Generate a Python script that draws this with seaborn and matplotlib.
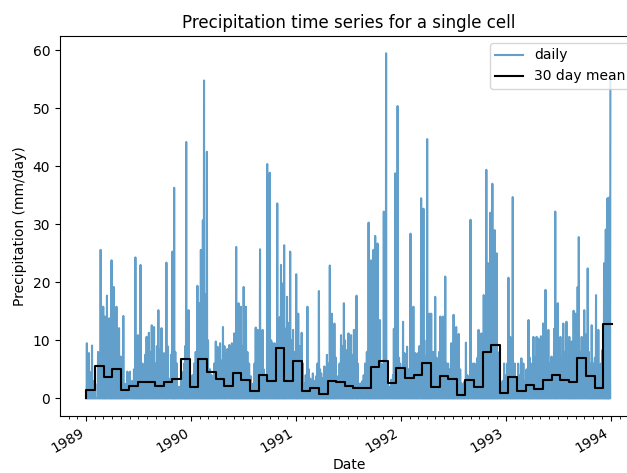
import pandas as pd
import matplotlib
matplotlib.use("Agg")
import matplotlib.pyplot as plt
import matplotlib.dates as mdates
import seaborn as sns

# wet days: day offset from 1989-01-01 and rain (mm/day)
peak_days = [2, 9, 20, 41, 50, 59, 65, 72, 80, 88, 96, 105, 114, 120, 129, 143, 152, 171, 180, 189,
             196, 210, 218, 228, 236, 251, 262, 271, 279, 287, 300, 306, 315, 323, 341, 348, 356, 364,
             387, 393, 399, 406, 410, 420, 427, 436, 451, 457, 466, 476, 486, 498, 507, 515, 522, 530,
             538, 548, 556, 567, 573, 590, 597, 605, 614, 622, 630, 639, 649, 656, 665, 671, 678, 683,
             689, 699, 710, 720,
             731, 738, 750, 759, 770, 780, 789, 800, 810, 818, 829, 838, 848, 855, 864, 876, 887, 897,
             905, 913, 922, 932, 941, 948, 957, 971, 983, 992, 1000, 1006, 1014, 1022, 1030, 1036, 1044,
             1050, 1062, 1076, 1084, 1093,
             1103, 1108, 1117, 1129, 1139, 1146, 1155, 1166, 1174, 1181, 1187, 1195, 1201, 1215, 1225,
             1233, 1242, 1250, 1260, 1271, 1279, 1288, 1297, 1306, 1315, 1322, 1331, 1338, 1347, 1352,
             1366, 1376, 1384, 1393, 1399, 1407, 1414, 1422, 1429, 1436, 1446, 1455,
             1470, 1476, 1485, 1492, 1504, 1515, 1522, 1540, 1548, 1557, 1568, 1574, 1583, 1591, 1599,
             1609, 1620, 1633, 1642, 1651, 1661, 1672, 1682, 1690, 1697, 1704, 1711, 1715, 1725, 1734,
             1746, 1754, 1760, 1767, 1775, 1783, 1797, 1803, 1809, 1815, 1820, 1825]
peak_mm = [9.5, 7.8, 9.1, 8.0, 25.6, 15.8, 14.1, 17.7, 13.8, 23.8, 19.2, 15.8, 12.1, 7.2, 14.2, 4.6, 4.6, 24.3, 10.9, 23.0,
           6.0, 10.6, 11.3, 12.6, 12.3, 15.2, 12.1, 7.8, 23.4, 3.4, 25.3, 36.3, 6.0, 2.0, 6.0, 44.2, 15.2, 2.0,
           19.4, 16.4, 25.6, 30.7, 54.8, 42.5, 4.9, 4.0, 9.8, 8.9, 9.5, 12.3, 7.7, 9.2, 9.5, 11.2, 26.1, 16.4,
           15.8, 19.2, 15.8, 6.0, 3.8, 12.2, 11.8, 25.7, 11.8, 3.8, 40.4, 38.9, 9.5, 9.5, 33.6, 6.0, 23.0, 19.8,
           26.4, 17.5, 25.3, 11.8,
           21.4, 14.6, 11.3, 2.6, 15.8, 3.4, 4.3, 3.8, 18.5, 4.3, 5.5, 7.5, 22.9, 14.6, 12.9, 3.8, 10.9, 16.4,
           8.3, 11.2, 10.9, 11.8, 17.7, 2.6, 2.6, 6.0, 30.3, 23.8, 25.6, 28.0, 26.7, 13.5, 5.8, 32.2, 59.5,
           3.2, 3.2, 38.8, 50.4, 6.0,
           13.2, 7.8, 8.9, 28.4, 15.8, 7.8, 7.8, 34.5, 32.7, 7.2, 44.7, 14.6, 14.6, 17.5, 6.0,
           14.1, 14.1, 21.0, 6.0, 9.5, 14.4, 12.3, 11.1, 2.6, 2.6, 9.6, 3.7, 30.8, 6.0, 6.0,
           11.8, 11.2, 17.8, 39.4, 23.3, 32.0, 37.0, 29.0, 25.0, 2.6, 2.6, 6.0,
           20.8, 10.6, 34.7, 6.0, 6.0, 6.9, 6.0, 13.5, 6.0, 10.6, 10.6, 10.3, 10.7, 12.9, 18.7,
           11.8, 7.2, 32.2, 16.4, 10.6, 12.9, 13.2, 10.6, 9.8, 15.1, 14.6, 19.2, 27.8, 10.6, 15.2,
           22.4, 6.0, 12.6, 6.0, 17.8, 11.8, 8.3, 23.3, 29.1, 34.5, 34.6, 54.8]

# smaller wet days filling the band under the spikes
light_days = [5, 14, 25, 31, 45, 55, 62, 68, 76, 84, 92, 100, 109, 117, 125, 135, 160, 166, 175, 184,
              193, 201, 205, 214, 223, 232, 241, 246, 256, 266, 275, 283, 295, 303, 310, 330, 336, 344,
              352, 360,
              370, 376, 381, 404, 415, 424, 431, 441, 446, 461, 471, 481, 491, 502, 511, 519, 526, 534,
              543, 552, 561, 580, 586, 593, 601, 609, 618, 626, 634, 644, 653, 661, 668, 674, 686, 694,
              704, 715, 725,
              735, 744, 754, 764, 775, 785, 795, 805, 814, 824, 833, 843, 851, 860, 869, 882, 892, 901,
              909, 917, 927, 936, 945, 962, 966, 977, 987, 996, 1003, 1010, 1018, 1026, 1040, 1056, 1068,
              1071, 1080, 1089,
              1098, 1112, 1122, 1134, 1143, 1150, 1160, 1170, 1177, 1191, 1198, 1208, 1220, 1229, 1238,
              1246, 1255, 1266, 1275, 1284, 1293, 1302, 1311, 1318, 1327, 1343, 1358, 1362, 1371, 1380,
              1388, 1396, 1403, 1411, 1418, 1425, 1432, 1441, 1450,
              1462, 1466, 1480, 1489, 1498, 1510, 1527, 1533, 1544, 1552, 1562, 1579, 1587, 1595, 1604,
              1614, 1626, 1629, 1638, 1646, 1656, 1666, 1677, 1686, 1694, 1701, 1708, 1720, 1729, 1739,
              1750, 1757, 1764, 1771, 1779, 1788, 1792, 1800, 1806, 1812, 1818, 1823]
light_mm = [6.0, 4.5, 3.0, 2.5, 6.5, 9.0, 7.5, 10.0, 8.0, 9.5, 11.0, 8.5, 9.0, 5.0, 3.5, 2.5, 3.0, 5.0, 8.0, 6.5,
            5.5, 4.0, 7.5, 6.5, 8.0, 7.0, 6.0, 9.0, 8.5, 5.0, 6.0, 9.0, 7.5, 12.0, 8.0, 3.0, 4.5, 9.0,
            8.0, 5.0,
            4.0, 6.0, 8.0, 12.0, 18.0, 10.0, 5.0, 3.0, 6.0, 7.0, 6.5, 9.0, 8.5, 6.0, 7.0, 8.0, 12.0, 10.0,
            9.0, 12.0, 8.0, 2.5, 6.0, 8.0, 9.0, 7.0, 5.0, 4.0, 12.0, 10.0, 6.0, 8.0, 11.0, 14.0, 15.0, 12.0,
            13.0, 10.0, 8.0,
            8.0, 9.0, 6.0, 4.0, 5.0, 2.5, 3.0, 6.0, 5.0, 3.5, 4.5, 6.0, 10.0, 8.0, 7.0, 6.0, 9.0, 10.0,
            7.0, 8.0, 7.5, 8.0, 6.0, 3.0, 4.0, 8.0, 15.0, 14.0, 16.0, 12.0, 10.0, 6.0, 10.0, 2.0, 4.0,
            12.0, 15.0, 7.0,
            5.0, 6.0, 5.0, 10.0, 6.0, 5.0, 9.0, 12.0, 10.0, 8.0, 9.0, 8.0, 7.0, 8.0, 9.0,
            10.0, 6.0, 5.0, 7.0, 8.0, 7.0, 5.0, 2.0, 3.0, 4.0, 5.0, 4.0, 7.0, 8.0, 10.0,
            14.0, 12.0, 16.0, 15.0, 14.0, 12.0, 8.0, 2.0, 3.0,
            4.0, 6.0, 8.0, 5.0, 3.0, 4.0, 3.0, 5.0, 7.0, 5.0, 7.0, 6.0, 8.0, 9.0, 8.0,
            6.0, 5.0, 12.0, 10.0, 8.0, 7.0, 8.0, 7.0, 6.0, 8.0, 9.0, 10.0, 8.0, 9.0, 11.0,
            8.0, 5.0, 4.0, 7.0, 8.0, 5.0, 6.0, 12.0, 15.0, 20.0, 16.0, 10.0]

# 30 day means (bins of 30 days from 1989-01-01); the step line starts from zero
mean_start = 0.0
mean_30d = [1.4, 5.6, 3.7, 5.1, 1.4, 2.1, 2.8, 2.9, 2.2, 2.9, 3.3, 6.7, 2.0, 6.8, 4.6, 3.3, 2.1, 4.4, 3.1, 1.2,
            4.1, 3.0, 8.6, 3.0, 6.4, 1.2, 1.8, 0.7, 3.0, 2.9, 2.2, 1.8, 1.8, 5.4, 6.4, 2.6, 5.2, 3.5, 4.0, 6.1,
            1.9, 3.8, 3.4, 0.6, 3.1, 2.0, 8.0, 9.2, 1.0, 3.6, 1.3, 2.3, 1.6, 3.1, 4.0, 3.2, 2.9, 7.0, 3.8, 1.7,
            12.9]

start = pd.Timestamp("1989-01-01")
daily = pd.DataFrame({"time": pd.date_range(start, "1993-12-31", freq="D")})
daily["precip"] = 0.0
daily.loc[light_days, "precip"] = light_mm
daily.loc[peak_days, "precip"] = peak_mm

monthly = pd.DataFrame({
    "time": pd.date_range(start, periods=len(mean_30d) + 1, freq="30D"),
    "precip": [mean_start] + mean_30d,
})

fig = plt.figure(figsize=(6.27, 4.73), dpi=100)
ax = fig.add_axes([0.0957, 0.1214, 0.922, 0.8025])

sns.lineplot(data=daily, x="time", y="precip", estimator=None, color="C0", alpha=0.7,
             linewidth=1.5, label="daily", ax=ax)
sns.lineplot(data=monthly, x="time", y="precip", estimator=None, color="black",
             linewidth=1.5, drawstyle="steps-pre", label="30 day mean", ax=ax)

ax.xaxis.set_major_locator(mdates.YearLocator())
ax.xaxis.set_major_formatter(mdates.DateFormatter("%Y"))
ax.xaxis.set_minor_locator(mdates.MonthLocator())
for lbl in ax.get_xticklabels():
    lbl.set_rotation(30)
    lbl.set_ha("right")

ax.set_title("Precipitation time series for a single cell")
ax.set_xlabel("Date", labelpad=2)
ax.set_ylabel("Precipitation (mm/day)")
ax.legend(loc="upper right")

fig.savefig("out.png", dpi=100)
